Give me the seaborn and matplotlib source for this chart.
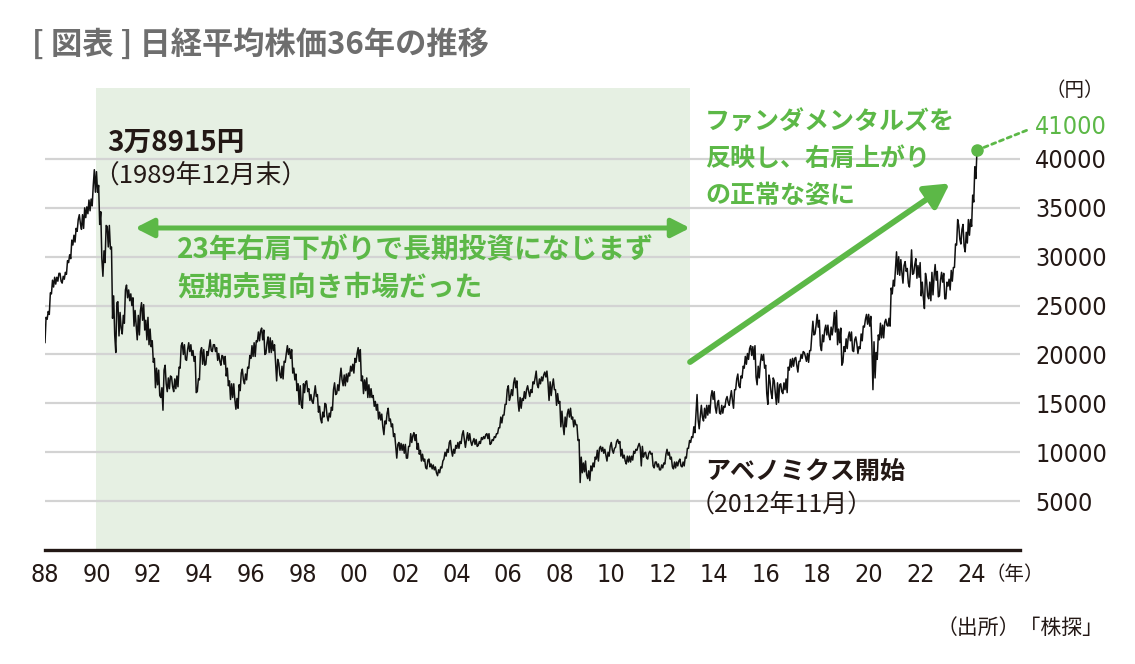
import matplotlib
matplotlib.use("Agg")
import matplotlib.pyplot as plt
from matplotlib import font_manager
import pandas as pd
import seaborn as sns

# Nikkei 225, monthly low / high (thousand yen), Jan 1988 - Mar 2024
monthly_low = [
    21.2, 23.6, 24.1, 26.2, 26.9, 27.2, 27.5, 27.5, 27.3, 27.7, 28.2, 29.4,  # 1988
    29.8, 31.2, 31.5, 32.6, 33.4, 32.8, 32.9, 34.0, 34.4, 34.7, 35.2, 36.6,  # 1989
    36.6, 33.3, 29.8, 28.0, 29.4, 31.0, 30.8, 23.7, 22.0, 20.2, 21.9, 22.7,  # 1990
    22.1, 23.2, 25.8, 25.5, 25.0, 22.9, 23.0, 21.5, 22.0, 23.5, 22.5, 21.5,  # 1991
    21.0, 20.8, 19.2, 16.6, 16.9, 15.8, 15.6, 14.3, 17.0, 16.2, 16.5, 16.7,  # 1992
    16.2, 16.5, 16.7, 18.6, 20.0, 19.5, 19.4, 20.3, 19.9, 19.3, 16.1, 16.2,  # 1993
    17.4, 19.0, 18.9, 19.0, 19.9, 20.4, 20.3, 20.3, 19.4, 19.3, 18.9, 19.0,  # 1994
    17.8, 16.8, 15.4, 15.6, 15.4, 14.4, 14.5, 16.3, 17.4, 17.0, 17.4, 18.6,  # 1995
    19.6, 19.8, 19.8, 21.3, 21.4, 21.5, 20.0, 20.1, 20.2, 20.2, 20.4, 19.2,  # 1996
    17.3, 17.9, 17.6, 17.5, 19.2, 20.0, 19.6, 18.1, 17.4, 16.3, 14.9, 14.8,  # 1997
    14.5, 16.1, 16.2, 15.3, 15.2, 15.0, 15.7, 14.1, 13.4, 13.0, 13.6, 13.7,  # 1998
    13.2, 13.6, 14.3, 15.9, 16.0, 16.3, 17.4, 16.8, 16.8, 17.2, 17.8, 18.3,  # 1999
    18.1, 19.2, 19.3, 17.3, 16.0, 16.3, 15.6, 15.6, 15.6, 14.7, 14.3, 13.4,  # 2000
    13.3, 12.6, 11.8, 12.9, 13.2, 12.6, 11.6, 10.7, 9.4, 10.2, 10.2, 9.9,    # 2001
    9.4, 9.4, 10.6, 11.0, 11.2, 10.3, 9.8, 9.1, 9.1, 8.4, 8.3, 8.5,          # 2002
    8.3, 8.2, 7.9, 7.6, 7.9, 8.4, 9.3, 9.6, 10.0, 10.2, 9.6, 9.9,            # 2003
    10.4, 10.4, 10.9, 11.3, 10.5, 11.2, 11.1, 10.7, 10.8, 10.6, 10.7, 10.9,  # 2004
    11.3, 11.4, 11.4, 10.8, 10.9, 11.2, 11.5, 11.9, 12.5, 13.0, 13.8, 14.9,  # 2005
    15.3, 15.7, 15.8, 16.6, 15.3, 14.2, 14.5, 15.3, 15.5, 16.2, 15.7, 16.1,  # 2006
    17.0, 16.9, 16.6, 17.0, 17.3, 17.7, 17.1, 15.3, 15.8, 16.4, 14.8, 15.0,  # 2007
    12.6, 12.8, 11.8, 12.6, 13.6, 13.4, 12.6, 12.8, 11.2, 6.9, 7.9, 8.0,     # 2008
    7.7, 7.3, 7.1, 8.1, 8.5, 9.3, 9.1, 10.1, 9.9, 9.7, 9.1, 9.6,             # 2009
    10.2, 9.9, 10.5, 10.9, 9.6, 9.4, 9.1, 8.8, 9.0, 9.0, 9.2, 9.9,           # 2010
    10.2, 10.5, 8.6, 9.5, 9.4, 9.3, 9.8, 8.6, 8.4, 8.5, 8.2, 8.2,            # 2011
    8.4, 8.8, 9.7, 9.3, 8.5, 8.3, 8.4, 8.6, 8.6, 8.5, 8.6, 9.4,              # 2012
    10.4, 11.0, 11.5, 12.0, 13.3, 12.4, 13.6, 13.2, 13.5, 13.8, 14.0, 15.4,  # 2013
    14.6, 14.0, 14.0, 13.9, 14.0, 14.6, 15.1, 14.8, 15.3, 14.5, 16.4, 16.8,  # 2014
    16.6, 17.6, 18.6, 19.0, 19.5, 19.9, 19.5, 17.7, 16.9, 17.6, 19.4, 18.6,  # 2015
    16.0, 14.9, 16.1, 15.5, 16.0, 14.9, 15.1, 16.2, 16.0, 16.4, 16.1, 18.4,  # 2016
    18.7, 18.8, 18.9, 18.2, 19.3, 19.6, 19.8, 19.3, 19.2, 20.4, 22.0, 22.1,  # 2017
    22.8, 20.9, 20.4, 21.3, 22.0, 21.9, 21.5, 22.0, 22.3, 21.0, 21.2, 18.9,  # 2018
    19.2, 20.3, 20.6, 21.4, 20.4, 20.3, 21.1, 20.1, 20.6, 21.4, 22.8, 23.1,  # 2019
    22.9, 21.0, 16.4, 17.6, 19.5, 21.5, 21.7, 21.7, 23.0, 22.9, 22.9, 26.2,  # 2020
    27.0, 28.2, 28.1, 28.4, 27.3, 28.5, 27.3, 26.9, 28.2, 28.3, 27.8, 27.9,  # 2021
    26.0, 25.8, 24.7, 26.0, 25.7, 25.5, 26.1, 27.6, 25.9, 26.0, 27.4, 25.7,  # 2022
    25.7, 27.0, 26.6, 27.5, 28.9, 31.2, 31.8, 31.3, 31.1, 30.5, 31.4, 32.2,  # 2023
    33.1, 35.6, 38.0,                                                        # 2024
]
monthly_high = [
    23.8, 24.4, 26.3, 27.6, 27.9, 27.9, 28.3, 28.3, 28.0, 28.4, 29.6, 30.2,  # 1988
    31.7, 32.2, 32.9, 33.8, 34.3, 34.3, 35.0, 35.1, 35.8, 35.9, 37.3, 38.9,  # 1989
    38.7, 37.3, 34.6, 30.6, 33.2, 33.1, 33.2, 31.0, 26.0, 25.3, 25.4, 24.3,  # 1990
    24.0, 26.6, 27.1, 26.6, 26.2, 25.8, 24.5, 24.0, 24.5, 25.3, 25.1, 23.5,  # 1991
    23.8, 22.6, 21.4, 19.6, 18.6, 18.4, 16.6, 18.4, 18.9, 17.6, 17.8, 17.7,  # 1992
    17.5, 17.8, 18.7, 20.9, 21.2, 21.0, 20.5, 21.2, 21.0, 20.4, 19.8, 17.5,  # 1993
    20.3, 20.7, 20.5, 20.3, 20.7, 21.5, 21.0, 21.0, 20.7, 20.1, 19.9, 19.8,  # 1994
    19.8, 18.6, 17.3, 17.0, 17.0, 15.5, 16.9, 18.1, 18.5, 18.0, 18.7, 19.9,  # 1995
    20.9, 21.2, 21.4, 22.3, 22.4, 22.7, 22.5, 21.2, 21.8, 21.7, 21.4, 21.0,  # 1996
    19.5, 19.1, 18.8, 19.3, 20.1, 20.9, 20.6, 20.5, 18.6, 18.0, 17.0, 16.8,  # 1997
    17.0, 17.2, 17.3, 16.5, 15.9, 15.9, 16.8, 15.9, 14.7, 14.1, 15.0, 14.9,  # 1998
    14.0, 14.6, 16.4, 17.1, 16.9, 17.6, 18.6, 17.9, 18.0, 18.1, 18.8, 19.0,  # 1999
    19.6, 20.1, 20.7, 20.5, 17.8, 17.4, 17.6, 16.9, 16.5, 15.8, 15.2, 14.9,  # 2000
    14.1, 13.9, 13.2, 14.0, 14.5, 13.4, 12.9, 11.9, 10.8, 11.0, 10.9, 10.8,  # 2001
    10.8, 10.6, 11.9, 11.7, 12.0, 11.8, 10.9, 10.2, 9.8, 9.3, 9.2, 9.3,      # 2002
    8.8, 8.7, 8.5, 8.2, 8.5, 9.1, 10.0, 10.3, 11.0, 11.2, 10.3, 10.7,        # 2003
    11.0, 11.1, 11.8, 12.2, 11.3, 12.0, 11.9, 11.1, 11.4, 11.3, 11.1, 11.5,  # 2004
    11.6, 11.8, 11.9, 11.9, 11.3, 11.6, 11.9, 12.5, 13.6, 13.8, 14.9, 16.4,  # 2005
    16.8, 16.4, 17.1, 17.6, 17.3, 15.6, 15.5, 16.2, 16.4, 16.8, 16.4, 17.2,  # 2006
    17.6, 18.3, 17.5, 17.7, 17.9, 18.2, 18.3, 17.2, 16.8, 17.5, 16.4, 16.0,  # 2007
    15.2, 14.2, 13.6, 13.9, 14.4, 14.5, 13.6, 13.3, 12.8, 11.3, 9.5, 8.9,    # 2008
    9.1, 8.1, 8.6, 8.9, 9.5, 10.2, 10.4, 10.6, 10.5, 10.3, 10.0, 10.6,       # 2009
    11.0, 10.4, 11.1, 11.3, 11.1, 10.3, 9.7, 9.6, 9.6, 9.6, 10.1, 10.3,      # 2010
    10.6, 10.9, 10.6, 9.9, 10.0, 9.9, 10.1, 9.9, 9.0, 9.0, 8.8, 8.7,         # 2011
    8.9, 9.8, 10.3, 10.0, 9.5, 9.0, 9.0, 9.1, 9.3, 9.0, 9.5, 10.4,           # 2012
    11.2, 11.6, 12.6, 13.9, 15.9, 13.7, 14.8, 14.5, 14.8, 14.8, 15.7, 16.3,  # 2013
    16.2, 15.0, 15.3, 14.8, 14.7, 15.4, 15.7, 15.6, 16.3, 16.4, 17.5, 18.0,  # 2014
    17.8, 18.8, 19.8, 20.1, 20.6, 20.9, 20.8, 20.9, 18.8, 19.1, 20.0, 20.0,  # 2015
    18.9, 17.9, 17.3, 17.6, 17.3, 17.1, 16.9, 17.0, 17.1, 17.5, 18.7, 19.5,  # 2016
    19.6, 19.6, 19.7, 19.3, 20.0, 20.3, 20.2, 20.1, 20.4, 22.0, 23.4, 23.0,  # 2017
    24.1, 23.5, 22.0, 22.5, 23.0, 23.0, 22.8, 22.9, 24.3, 24.5, 22.6, 22.7,  # 2018
    20.8, 21.6, 21.8, 22.3, 22.3, 21.5, 21.8, 20.8, 22.1, 22.9, 23.6, 24.1,  # 2019
    24.1, 23.9, 21.3, 20.2, 22.0, 23.2, 23.0, 23.3, 23.6, 23.7, 26.8, 27.6,  # 2020
    28.8, 30.5, 30.0, 29.7, 29.1, 29.5, 28.8, 28.5, 30.7, 29.2, 29.8, 29.1,  # 2021
    29.4, 27.4, 28.3, 27.6, 27.4, 28.4, 28.0, 29.2, 28.5, 27.6, 28.4, 28.3,  # 2022
    27.4, 27.7, 28.6, 28.9, 31.3, 33.8, 33.2, 32.8, 33.3, 32.5, 33.8, 33.8,  # 2023
    36.3, 39.2, 40.9,                                                        # 2024
]
start_year = 1988

tick_years = list(range(1988, 2025, 2))
tick_labels = ["88", "90", "92", "94", "96", "98", "00", "02", "04", "06",
               "08", "10", "12", "14", "16", "18", "20", "22", "24"]
price_ticks = [5000, 10000, 15000, 20000, 25000, 30000, 35000, 40000]
price_labels = [str(v) for v in price_ticks]

# zigzag low/high inside each month so the line keeps its daily-chart roughness
rows = []
n = len(monthly_low)
for m in range(n):
    lo, hi = monthly_low[m] * 1000, monthly_high[m] * 1000
    mid = (lo + hi) / 2
    nxt = (monthly_low[m + 1] + monthly_high[m + 1]) * 500 if m + 1 < n else hi + 1
    first, second = (lo, hi) if nxt >= mid else (hi, lo)
    t = start_year + m / 12
    rows.append((t, first))
    rows.append((t + 1 / 24, second))
df = pd.DataFrame(rows, columns=["year", "price"])

#  Style 
sns.set_style("white")
plt.rcParams["font.family"] = ["Noto Sans CJK JP", "DejaVu Sans"]

# narrow face for the numbers, if one is installed
fonts = font_manager.fontManager.ttflist
names = {f.name for f in fonts}
narrow = [f for f in fonts if f.stretch in ("condensed", "semi-condensed",
                                            "extra-condensed", "ultra-condensed")]
if "Liberation Sans Narrow" in names:
    num_font = {"family": "Liberation Sans Narrow"}
    num_size = 18
elif narrow:
    num_font = {"family": narrow[0].name, "stretch": narrow[0].stretch}
    num_size = 18
else:
    num_font = {"family": "Roboto"}
    num_size = 16

GREEN = "#5cb847"
SHADE = "#e6f0e3"
INK = "#231815"
W, H = 1135, 664


def fx(x):
    return x / W


def fy(y):
    return 1 - y / H


fig = plt.figure(figsize=(W / 100, H / 100), dpi=100)
ax = fig.add_axes([fx(45), fy(550), (1020 - 45) / W, (550 - 88) / H])

ax.axvspan(1990, 2013.06, color=SHADE, lw=0, zorder=0)
sns.lineplot(data=df, x="year", y="price", sort=False, estimator=None,
             color="#111111", lw=1.1, ax=ax, zorder=3)

ax.set_xlim(1988, 2025.88)
ax.set_ylim(0, 47260)
ax.set_xlabel("")
ax.set_ylabel("")

ax.grid(axis="y", color="#d3d3d3", lw=1.6)
ax.grid(axis="x", visible=False)
ax.set_axisbelow(True)
for s in ["top", "right", "left"]:
    ax.spines[s].set_visible(False)
ax.spines["bottom"].set_linewidth(2.4)
ax.spines["bottom"].set_color(INK)

ax.yaxis.tick_right()
ax.set_yticks(price_ticks)
ax.set_yticklabels(price_labels, fontsize=num_size, color=INK, **num_font)
ax.set_xticks(tick_years)
ax.set_xticklabels(tick_labels, fontsize=num_size, color=INK, **num_font)
ax.tick_params(axis="y", length=0, pad=11)
ax.tick_params(axis="x", length=0, pad=9)

# last point + 41000 marker
last_t, last_v = df["year"].iloc[-1], df["price"].iloc[-1]
ax.plot([last_t], [last_v], marker="o", ms=8, color=GREEN, clip_on=False, zorder=5)
ax.annotate("41000", xy=(last_t, last_v), xytext=(fx(1035), fy(127)),
            textcoords="figure fraction", ha="left", va="center",
            fontsize=num_size, color=GREEN, **num_font,
            arrowprops=dict(arrowstyle="-", linestyle=(0, (1.5, 1.5)), lw=2,
                            color=GREEN, shrinkA=4, shrinkB=3,
                            relpos=(0, 0.5)))

# arrows
ax.annotate("", xy=(2013.06, 32940), xytext=(1991.5, 32940),
            arrowprops=dict(arrowstyle="<|-|>,head_length=0.55,head_width=0.28",
                            mutation_scale=20, color=GREEN, lw=3.6,
                            shrinkA=0, shrinkB=0))
ax.annotate("", xy=(2023.15, 37500), xytext=(2013.06, 19230),
            arrowprops=dict(arrowstyle="-|>,head_length=0.72,head_width=0.4",
                            mutation_scale=20, color=GREEN, lw=4.2,
                            shrinkA=0, shrinkB=0))

#  Texts 
fig.text(fx(32), fy(45), "[ 図表 ] 日経平均株価36年の推移", fontsize=22.5,
         fontweight="bold", color="#6e6e6e", ha="left", va="center")

fig.text(fx(107), fy(143), "3万8915円", fontsize=20, fontweight="bold",
         color=INK, ha="left", va="center")
fig.text(fx(93), fy(176), "（1989年12月末）", fontsize=18.5,
         color=INK, ha="left", va="center")

fig.text(fx(177), fy(250), "23年右肩下がりで長期投資になじまず", fontsize=20,
         fontweight="bold", color=GREEN, ha="left", va="center")
fig.text(fx(177), fy(288), "短期売買向き市場だった", fontsize=20,
         fontweight="bold", color=GREEN, ha="left", va="center")

for txt, yy in [("ファンダメンタルズを", 122), ("反映し、右肩上がり", 160),
                ("の正常な姿に", 196)]:
    fig.text(fx(705), fy(yy), txt, fontsize=18, fontweight="bold",
             color=GREEN, ha="left", va="center")

fig.text(fx(705), fy(472), "アベノミクス開始", fontsize=18, fontweight="bold",
         color=INK, ha="left", va="center")
fig.text(fx(690), fy(505), "（2012年11月）", fontsize=18,
         color=INK, ha="left", va="center")

fig.text(fx(1075), fy(90), "（円）", fontsize=14, color=INK,
         ha="center", va="center")
fig.text(fx(1015), fy(574), "（年）", fontsize=14, color=INK,
         ha="center", va="center")
fig.text(fx(1020), fy(628), "（出所）「株探」", fontsize=15, color=INK,
         ha="center", va="center")

plt.savefig("out.png", dpi=100)
plt.close()
